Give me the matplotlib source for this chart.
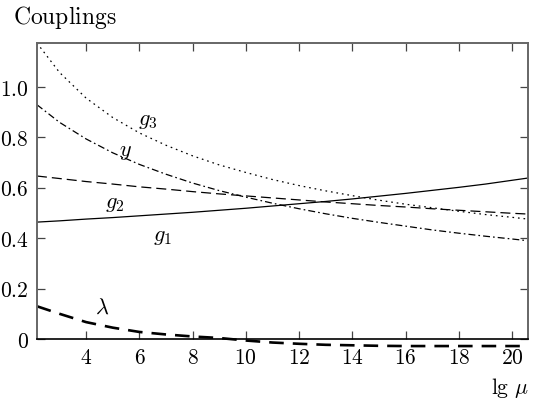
import numpy as np
import matplotlib
matplotlib.use('Agg')
import matplotlib.pyplot as plt

plt.rcParams['mathtext.fontset'] = 'cm'
plt.rcParams['font.family'] = 'serif'
plt.rcParams['lines.scale_dashes'] = False

# lg(mu) sample points
lgmu = [2.15, 3, 4, 5, 6, 7, 8, 9, 10, 11, 12, 13, 14, 15, 16, 17, 18, 19, 20, 20.6]

g1 = [0.464, 0.469, 0.476, 0.482, 0.489, 0.496, 0.503, 0.511, 0.519, 0.528,
      0.537, 0.546, 0.556, 0.567, 0.578, 0.590, 0.602, 0.615, 0.630, 0.639]
g2 = [0.647, 0.637, 0.625, 0.615, 0.604, 0.595, 0.585, 0.576, 0.568, 0.560,
      0.552, 0.544, 0.537, 0.530, 0.524, 0.517, 0.511, 0.505, 0.499, 0.496]
g3 = [1.175, 1.058, 0.956, 0.879, 0.818, 0.769, 0.727, 0.691, 0.661, 0.633,
      0.609, 0.588, 0.569, 0.551, 0.535, 0.521, 0.507, 0.494, 0.483, 0.476]
yuk = [0.930, 0.860, 0.794, 0.739, 0.693, 0.654, 0.619, 0.589, 0.563, 0.539,
       0.517, 0.497, 0.479, 0.463, 0.448, 0.433, 0.420, 0.408, 0.397, 0.390]
lam = [0.130, 0.100, 0.067, 0.045, 0.028, 0.018, 0.010, 0.004, -0.006, -0.014,
       -0.019, -0.023, -0.025, -0.027, -0.028, -0.028, -0.028, -0.028, -0.028, -0.028]

xticks = [4, 6, 8, 10, 12, 14, 16, 18, 20]
yticks = [0, 0.2, 0.4, 0.6, 0.8, 1.0]
ylabels = ['0', '0.2', '0.4', '0.6', '0.8', '1.0']

fig = plt.figure(figsize=(5.35, 4.01), dpi=100)
ax = fig.add_axes([0.069, 0.1546, 0.918, 0.7382])

ax.plot(lgmu, g1, color='black', lw=0.9)
ax.plot(lgmu, g2, color='black', lw=0.9, linestyle=(0, (7.2, 3.6)))
ax.plot(lgmu, g3, color='black', lw=0.9, linestyle=(0, (1.2, 2.8)))
ax.plot(lgmu, yuk, color='black', lw=0.9, linestyle=(0, (5, 2.2, 1.2, 2.2)))
ax.plot(lgmu, lam, color='black', lw=1.9, linestyle=(0, (10.5, 6.5)), clip_on=False)

# curve labels
fs = 16
ax.text(6.3, 0.87, r'$g_3$', fontsize=fs, ha='center', va='center')
ax.text(5.47, 0.746, r'$y$', fontsize=fs, ha='center', va='center')
ax.text(5.09, 0.54, r'$g_2$', fontsize=fs, ha='center', va='center')
ax.text(6.86, 0.41, r'$g_1$', fontsize=fs, ha='center', va='center')
ax.text(4.6, 0.123, r'$\lambda$', fontsize=fs, ha='center', va='center')

ax.set_xlim(2.15, 20.6)
ax.set_ylim(0, 1.175)
ax.set_xticks(xticks)
ax.set_xticklabels(['$%d$' % t for t in xticks], fontsize=15.5)
ax.set_yticks(yticks)
ax.set_yticklabels(['$%s$' % s for s in ylabels], fontsize=15.5)
ax.tick_params(direction='in', top=True, right=True, length=6, width=0.9,
               color='#444444')
ax.tick_params(axis='y', pad=6)
ax.tick_params(axis='x', pad=6)

for s in ['left', 'top', 'right']:
    ax.spines[s].set_color('#666666')
    ax.spines[s].set_linewidth(1.4)
ax.spines['bottom'].set_color('black')
ax.spines['bottom'].set_linewidth(1.2)

fig.text(0.024, 0.94, r'$\mathrm{Couplings}$', fontsize=17, ha='left', va='baseline')
fig.text(0.988, 0.018, r'$\lg\,\mu$', fontsize=15.5, ha='right', va='baseline')

fig.savefig('out.png', dpi=100)
